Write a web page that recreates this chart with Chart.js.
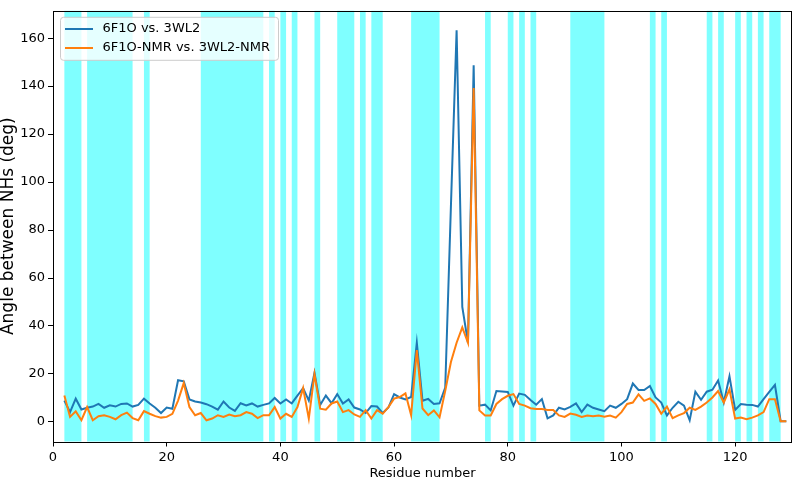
<!DOCTYPE html>
<html>
<head>
<meta charset="utf-8">
<script src="https://cdn.jsdelivr.net/npm/chart.js"></script>
<style>
html,body{margin:0;padding:0;background:#fff;}
#wrap{width:794px;height:481px;position:relative;}
</style>
</head>
<body>
<div id="wrap"><canvas id="c" width="794" height="481"></canvas></div>
<script>
const residues = [2,3,4,5,6,7,8,9,10,11,12,13,14,15,16,17,18,19,20,21,22,23,24,25,26,27,28,29,30,31,32,33,34,35,36,37,38,39,40,41,42,43,44,45,46,47,48,49,50,51,52,53,54,55,56,57,58,59,60,61,62,63,64,65,66,67,68,69,70,71,72,73,74,75,76,77,78,79,80,81,82,83,84,85,86,87,88,89,90,91,92,93,94,95,96,97,98,99,100,101,102,103,104,105,106,107,108,109,110,111,112,113,114,115,116,117,118,119,120,121,122,123,124,125,126,127,128,129];

const series1Name = '6F1O vs. 3WL2';
const series1 = [8.9,4.1,9.7,5.2,5.9,6.4,7.5,5.9,6.9,6.4,7.5,7.7,6.4,7.1,9.7,7.7,5.9,3.7,6.0,5.5,
17.4,16.9,9.4,8.5,8.1,7.4,6.4,5.1,8.5,6.0,4.6,7.8,6.9,7.7,6.4,7.1,7.7,10.0,7.7,9.4,
7.7,11.0,14.1,8.9,20.5,7.1,11.0,7.8,11.6,7.7,9.4,6.0,5.2,3.7,6.6,6.4,3.7,6.0,11.6,10.2,
9.4,10.4,33.0,8.8,9.6,7.5,7.8,14.3,90,163.3,48,33,148.7,6.8,7.2,4.8,12.9,12.7,12.5,6.8,
11.8,11.3,9.1,7.2,9.5,1.5,2.7,5.9,5.2,6.3,7.7,4.1,7.2,5.9,5.2,4.5,6.8,5.9,7.5,9.5,
16.0,13.3,13.3,15.0,10.2,8.1,2.7,5.9,8.4,6.8,0.7,12.6,9.2,12.6,13.4,17.3,8.1,19.0,5.0,7.5,
7.2,7.1,6.4,9.5,12.5,15.4,0.3,0.3];

const series2Name = '6F1O-NMR vs. 3WL2-NMR';
const series2 = [11.0,2.1,4.4,0.7,6.2,0.7,2.4,2.8,2.1,1.1,2.8,3.9,1.6,0.7,4.5,3.4,2.4,1.8,2.1,3.4,
8.9,16.2,6.2,2.8,3.7,0.7,1.4,2.8,2.1,3.1,2.4,2.8,4.1,3.4,1.6,2.8,2.8,6.2,1.4,3.4,
2.1,6.2,14.1,1.4,19.9,5.5,5.1,7.7,8.5,4.1,4.9,3.1,2.1,4.9,1.4,4.9,3.4,6.2,9.7,10.4,
11.9,2.8,29.9,5.6,2.8,4.8,1.9,13,25,33,39.4,33,139.2,4.8,2.7,2.7,7.5,9.5,10.9,11.6,
7.5,6.8,5.7,5.4,5.4,5.0,5.0,2.7,2.1,3.5,3.0,2.1,2.7,2.4,2.7,2.2,2.7,1.8,4.1,7.5,
8.1,11.5,8.8,9.8,7.5,3.4,6.4,1.6,2.7,3.7,5.9,5.0,6.4,8.1,10.2,12.9,8.1,13.6,1.4,1.8,
1.1,1.8,2.7,4.1,9.5,9.5,0.3,0.3];

const bandStart = [2,6,16,26,38,40,42,46,50,54,56,63,76,80,82,84,91,105,107,115,117,120,122,124,126];
const bandEnd   = [5,14,17,37,39,41,43,47,53,55,58,68,77,81,83,85,97,106,108,116,118,121,123,125,128];

const xTicks = [0,20,40,60,80,100,120];
const yTicks = [0,20,40,60,80,100,120,140,160];

const BLUE = '#1f77b4';
const ORANGE = '#ff7f0e';

function legendLine(color) {
  const c = document.createElement('canvas');
  c.width = 28; c.height = 2;
  const g = c.getContext('2d');
  g.fillStyle = color;
  g.fillRect(0, 0, 28, 2);
  return c;
}

Chart.defaults.font.family = "'DejaVu Sans', sans-serif";
Chart.defaults.font.size = 13;
Chart.defaults.color = '#000';

const decor = {
  id: 'decor',
  afterLayout(chart) {
    const a = chart.chartArea, l = chart.legend;
    if (l) { l.left = a.left + 3; l.top = a.top + 5.5; }
  },
  beforeDraw(chart) {
    const {ctx, chartArea: a, scales: {x}} = chart;
    ctx.save();
    ctx.fillStyle = '#fff';
    ctx.fillRect(0, 0, chart.width, chart.height);
    ctx.fillStyle = 'rgba(0,255,255,0.5)';
    for (let i = 0; i < bandStart.length; i++) {
      const x0 = x.getPixelForValue(bandStart[i]);
      const x1 = x.getPixelForValue(bandEnd[i]);
      ctx.fillRect(x0, a.top, x1 - x0, a.bottom - a.top);
    }
    ctx.beginPath();
    ctx.roundRect(a.left + 7.5, a.top + 6.5, 218, 43, 3);
    ctx.fillStyle = 'rgba(255,255,255,0.8)';
    ctx.fill();
    ctx.strokeStyle = '#cccccc';
    ctx.lineWidth = 1;
    ctx.stroke();
    ctx.restore();
  },
  afterDraw(chart) {
    const {ctx, chartArea: a} = chart;
    ctx.save();
    ctx.strokeStyle = '#000';
    ctx.lineWidth = 1;
    ctx.strokeRect(Math.round(a.left) + 0.5, Math.round(a.top) + 0.5,
                   Math.round(a.right) - Math.round(a.left) - 1, Math.round(a.bottom) - Math.round(a.top));
    ctx.restore();
  }
};

new Chart(document.getElementById('c'), {
  type: 'line',
  data: {
    datasets: [
      {
        label: series1Name,
        data: residues.map((r, i) => ({x: r, y: series1[i]})),
        borderColor: BLUE, backgroundColor: BLUE,
        borderWidth: 2, pointRadius: 0, tension: 0, fill: false, order: 1,
        pointStyle: legendLine(BLUE)
      },
      {
        label: series2Name,
        data: residues.map((r, i) => ({x: r, y: series2[i]})),
        borderColor: ORANGE, backgroundColor: ORANGE,
        borderWidth: 2, pointRadius: 0, tension: 0, fill: false, order: 0,
        pointStyle: legendLine(ORANGE)
      }
    ]
  },
  options: {
    responsive: false,
    animation: false,
    devicePixelRatio: 1,
    events: [],
    layout: {padding: {top: 1, right: 2, left: 0, bottom: 0}},
    plugins: {
      tooltip: {enabled: false},
      legend: {
        position: 'chartArea',
        align: 'start',
        labels: {
          usePointStyle: true,
          pointStyleWidth: 34,
          padding: 6,
          color: '#000',
          font: {size: 13},
          sort: (a, b) => a.datasetIndex - b.datasetIndex
        }
      }
    },
    scales: {
      x: {
        type: 'linear',
        min: 0, max: 130,
        afterBuildTicks: s => { s.ticks = xTicks.map(v => ({value: v})); },
        afterFit: s => { s.height = 39.5; },
        grid: {drawOnChartArea: false, drawTicks: true, tickLength: 5, color: '#000'},
        border: {display: false},
        ticks: {color: '#000', padding: 3, maxRotation: 0, autoSkip: false, font: {size: 13}},
        title: {display: true, text: 'Residue number', color: '#000', font: {size: 13}, padding: {top: 0, bottom: 0}}
      },
      y: {
        type: 'linear',
        min: -8.16, max: 171.4,
        afterBuildTicks: s => { s.ticks = yTicks.map(v => ({value: v})); },
        afterFit: s => { s.width = 53; },
        grid: {drawOnChartArea: false, drawTicks: true, tickLength: 5, color: '#000'},
        border: {display: false},
        ticks: {color: '#000', padding: 3, autoSkip: false, font: {size: 13}},
        title: {display: true, text: 'Angle between NHs (deg)', color: '#000', font: {size: 17}, padding: {top: -1.5, bottom: 0}}
      }
    }
  },
  plugins: [decor]
});
</script>
</body>
</html>
